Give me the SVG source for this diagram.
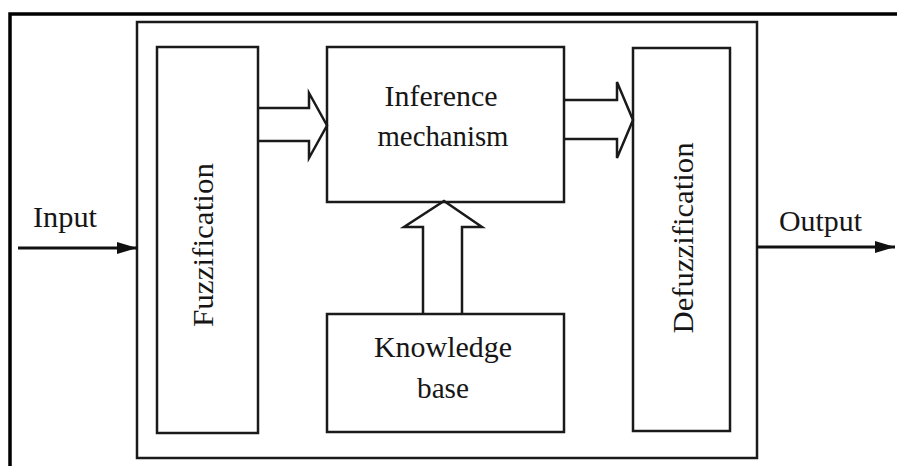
<svg xmlns="http://www.w3.org/2000/svg" width="897" height="466" viewBox="0 0 897 466">
<defs>
<style>
.box{fill:none;stroke:#1a1a1a;stroke-width:2.5}
.frame{fill:none;stroke:#000;stroke-width:3.5}
.arr{fill:none;stroke:#1a1a1a;stroke-width:2.5;stroke-linejoin:miter}
.ln{fill:none;stroke:#111;stroke-width:3}
.t{font-family:"Liberation Serif","Times New Roman",serif;font-size:30px;fill:#161616}
</style>
<marker id="ah" markerWidth="20" markerHeight="12" refX="20" refY="6" orient="auto" markerUnits="userSpaceOnUse">
<path d="M0,0 L20,6 L0,12 Z" fill="#111"/>
</marker>
</defs>
<rect width="897" height="466" fill="#fff"/>
<path class="frame" d="M10,466 V14 H897"/>
<g id="system"><rect class="box" x="137" y="22" width="620" height="436"/></g>
<g id="fuzzification">
<rect class="box" x="157" y="47" width="101" height="386"/>
<text class="t" transform="translate(213,245) rotate(-90)" text-anchor="middle" textLength="164" lengthAdjust="spacingAndGlyphs">Fuzzification</text>
</g>
<g id="inference">
<rect class="box" x="327" y="47" width="237" height="155"/>
<text class="t" x="441" y="106" text-anchor="middle" textLength="113" lengthAdjust="spacingAndGlyphs">Inference</text>
<text class="t" x="443" y="146" text-anchor="middle" textLength="131" lengthAdjust="spacingAndGlyphs">mechanism</text>
</g>
<g id="knowledge">
<rect class="box" x="327" y="314" width="237" height="118"/>
<text class="t" x="443" y="357" text-anchor="middle" textLength="138" lengthAdjust="spacingAndGlyphs">Knowledge</text>
<text class="t" x="443" y="398" text-anchor="middle" textLength="52" lengthAdjust="spacingAndGlyphs">base</text>
</g>
<g id="defuzzification">
<rect class="box" x="633" y="48" width="97" height="383"/>
<text class="t" transform="translate(693,238) rotate(-90)" text-anchor="middle" textLength="191" lengthAdjust="spacingAndGlyphs">Defuzzification</text>
</g>
<g id="connectors">
<path class="arr" d="M258,108 H309 V93 L327,125.5 L309,158 V141 H258"/>
<path class="arr" d="M564,100 H617 V82 L633,120 L617,158 V139 H564"/>
<path class="arr" d="M423,314 V227 H404 L444,201 L482,227 H462 V314"/>
<line class="ln" x1="18" y1="248" x2="137" y2="248" marker-end="url(#ah)"/>
<line class="ln" x1="757" y1="247" x2="895" y2="247" marker-end="url(#ah)"/>
</g>
<g id="labels">
<text class="t" x="33" y="227" textLength="64" lengthAdjust="spacingAndGlyphs">Input</text>
<text class="t" x="779" y="231" textLength="83" lengthAdjust="spacingAndGlyphs">Output</text>
</g>
</svg>
